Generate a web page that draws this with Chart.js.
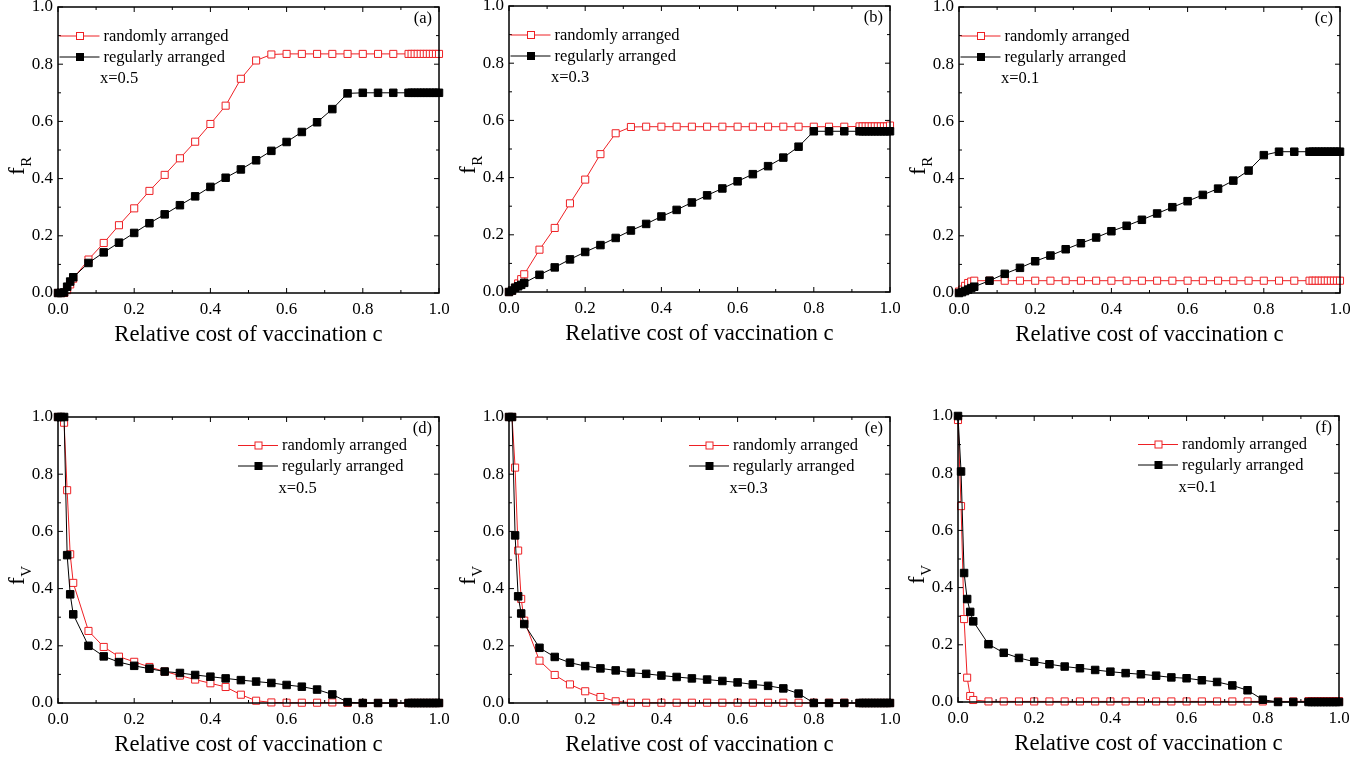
<!DOCTYPE html>
<html><head><meta charset="utf-8">
<script src="https://cdn.jsdelivr.net/npm/chart.js@4.4.1/dist/chart.umd.min.js"></script>
<style>
html,body{margin:0;padding:0;background:#fff;overflow:hidden;width:1371px;height:758px;position:relative;}
canvas{position:absolute;}
</style></head><body>
<canvas id="pa" width="451" height="356" style="left:-2px;top:-3px"></canvas>
<canvas id="pb" width="451" height="356" style="left:449px;top:-4px"></canvas>
<canvas id="pc" width="451" height="356" style="left:899px;top:-3px"></canvas>
<canvas id="pd" width="451" height="356" style="left:-2px;top:407px"></canvas>
<canvas id="pe" width="451" height="356" style="left:449px;top:407px"></canvas>
<canvas id="pf" width="451" height="356" style="left:898px;top:406px"></canvas>
<script>
// ---- data ----
const cost = [0, 0.008, 0.016, 0.024, 0.032, 0.04, 0.08, 0.12, 0.16, 0.2, 0.24, 0.28, 0.32, 0.36, 0.4, 0.44, 0.48, 0.52, 0.56, 0.6, 0.64, 0.68, 0.72, 0.76, 0.8, 0.84, 0.88, 0.92, 0.928, 0.936, 0.944, 0.952, 0.96, 0.968, 0.976, 0.984, 0.992, 1.0];
const tickValues = [0, 0.2, 0.4, 0.6, 0.8, 1.0];
const seriesNames = ['randomly arranged', 'regularly arranged'];

const fR_random_x05 = [0, 0, 0, 0.01, 0.03, 0.05, 0.117, 0.175, 0.237, 0.296, 0.357, 0.413, 0.471, 0.529, 0.591, 0.655, 0.749, 0.813, 0.834, 0.836, 0.836, 0.836, 0.836, 0.836, 0.836, 0.836, 0.836, 0.836, 0.836, 0.836, 0.836, 0.836, 0.836, 0.836, 0.836, 0.836, 0.836, 0.836];
const fR_regular_x05 = [0, 0, 0.002, 0.022, 0.04, 0.055, 0.105, 0.142, 0.176, 0.21, 0.244, 0.275, 0.307, 0.338, 0.371, 0.403, 0.432, 0.464, 0.497, 0.528, 0.563, 0.597, 0.643, 0.698, 0.7, 0.7, 0.7, 0.7, 0.7, 0.7, 0.7, 0.7, 0.7, 0.7, 0.7, 0.7, 0.7, 0.7];
const fR_random_x03 = [0, 0.005, 0.015, 0.03, 0.045, 0.062, 0.148, 0.224, 0.31, 0.393, 0.482, 0.555, 0.577, 0.578, 0.578, 0.578, 0.578, 0.578, 0.578, 0.578, 0.578, 0.578, 0.578, 0.578, 0.578, 0.578, 0.578, 0.579, 0.579, 0.579, 0.579, 0.579, 0.579, 0.579, 0.579, 0.579, 0.579, 0.582];
const fR_regular_x03 = [0, 0.005, 0.015, 0.02, 0.025, 0.032, 0.06, 0.086, 0.114, 0.14, 0.164, 0.189, 0.215, 0.238, 0.264, 0.287, 0.313, 0.338, 0.362, 0.387, 0.412, 0.44, 0.47, 0.508, 0.562, 0.562, 0.562, 0.562, 0.562, 0.562, 0.562, 0.562, 0.562, 0.562, 0.562, 0.562, 0.562, 0.562];
const fR_random_x01 = [0.005, 0.012, 0.025, 0.035, 0.04, 0.043, 0.043, 0.043, 0.043, 0.043, 0.043, 0.043, 0.043, 0.043, 0.043, 0.043, 0.043, 0.043, 0.043, 0.043, 0.043, 0.043, 0.043, 0.043, 0.043, 0.043, 0.043, 0.043, 0.043, 0.043, 0.043, 0.043, 0.043, 0.043, 0.043, 0.043, 0.043, 0.043];
const fR_regular_x01 = [0, 0.003, 0.007, 0.012, 0.017, 0.022, 0.043, 0.067, 0.088, 0.111, 0.131, 0.153, 0.174, 0.194, 0.216, 0.235, 0.256, 0.278, 0.3, 0.321, 0.343, 0.365, 0.393, 0.428, 0.482, 0.494, 0.494, 0.494, 0.494, 0.494, 0.494, 0.494, 0.494, 0.494, 0.494, 0.494, 0.494, 0.494];

const fV_random_x05 = [1, 1, 0.98, 0.744, 0.52, 0.42, 0.252, 0.196, 0.162, 0.144, 0.126, 0.11, 0.096, 0.082, 0.069, 0.056, 0.029, 0.008, 0.002, 0.001, 0.001, 0.001, 0.002, 0, 0, 0, 0, 0, 0, 0, 0, 0, 0, 0, 0, 0, 0, 0];
const fV_regular_x05 = [1, 1, 1, 0.517, 0.38, 0.31, 0.2, 0.163, 0.143, 0.13, 0.12, 0.11, 0.105, 0.098, 0.092, 0.086, 0.08, 0.075, 0.07, 0.063, 0.057, 0.047, 0.03, 0.003, 0, 0, 0, 0, 0, 0, 0, 0, 0, 0, 0, 0, 0, 0];
const fV_random_x03 = [1, 1, 0.823, 0.533, 0.364, 0.288, 0.148, 0.098, 0.065, 0.041, 0.021, 0.006, 0.001, 0.001, 0.001, 0.001, 0.001, 0.001, 0.001, 0.001, 0.001, 0.001, 0.001, 0.001, 0.001, 0.001, 0.001, 0, 0, 0, 0, 0, 0, 0, 0, 0, 0, 0];
const fV_regular_x03 = [1, 1, 0.586, 0.373, 0.313, 0.276, 0.193, 0.161, 0.141, 0.129, 0.121, 0.114, 0.106, 0.102, 0.096, 0.091, 0.086, 0.082, 0.077, 0.072, 0.065, 0.06, 0.051, 0.033, 0, 0, 0, 0, 0, 0, 0, 0, 0, 0, 0, 0, 0, 0];
const fV_random_x01 = [0.986, 0.685, 0.29, 0.085, 0.021, 0.007, 0.002, 0.002, 0.002, 0.002, 0.002, 0.002, 0.002, 0.002, 0.002, 0.002, 0.002, 0.002, 0.002, 0.002, 0.002, 0.002, 0.002, 0.002, 0.002, 0.002, 0.002, 0.003, 0.003, 0.003, 0.003, 0.003, 0.003, 0.003, 0.003, 0.003, 0.003, 0.003];
const fV_regular_x01 = [1, 0.806, 0.451, 0.36, 0.315, 0.282, 0.202, 0.172, 0.154, 0.141, 0.132, 0.124, 0.118, 0.112, 0.106, 0.101, 0.097, 0.092, 0.086, 0.083, 0.076, 0.07, 0.058, 0.041, 0.008, 0, 0, 0, 0, 0, 0, 0, 0, 0, 0, 0, 0, 0];

// ---- styling ----
const RED = 'rgb(238,32,36)';
const FONT = "'Liberation Serif', 'Times New Roman', serif";

const decor = {
  id: 'decor',
  afterDraw(chart, args, o) {
    const ctx = chart.ctx, a = chart.chartArea, xs = chart.scales.x, ys = chart.scales.y;
    ctx.save();
    ctx.strokeStyle = '#000';
    ctx.lineWidth = 1.5;
    ctx.strokeRect(a.left, a.top, a.right - a.left, a.bottom - a.top);
    ctx.lineWidth = 1;
    const seg = (x1, y1, x2, y2) => { ctx.beginPath(); ctx.moveTo(x1, y1); ctx.lineTo(x2, y2); ctx.stroke(); };
    for (let i = 0; i <= 10; i++) {
      const v = i / 10, L = (i % 2 === 0) ? 5 : 3;
      const px = xs.getPixelForValue(v), py = ys.getPixelForValue(v);
      seg(px, a.bottom, px, a.bottom - L);
      seg(px, a.top, px, a.top + L);
      seg(a.left, py, a.left + L, py);
      seg(a.right, py, a.right - L, py);
    }
    ctx.fillStyle = '#000';
    ctx.font = '22.7px ' + FONT;
    ctx.textAlign = 'center';
    ctx.textBaseline = 'alphabetic';
    ctx.fillText('Relative cost of vaccination c', (a.left + a.right) / 2, a.bottom + 48);
    ctx.save();
    ctx.translate(a.left - 34.5, (a.top + a.bottom) / 2 + 25);
    ctx.rotate(-Math.PI / 2);
    ctx.textAlign = 'left';
    ctx.font = '23px ' + FONT;
    ctx.fillText('f', 0, 0);
    const fw = ctx.measureText('f').width;
    ctx.font = '15px ' + FONT;
    ctx.fillText(o.sub, fw + 0.5, 7.5);
    ctx.restore();
    ctx.font = '16.5px ' + FONT;
    ctx.textAlign = 'right';
    ctx.fillText(o.tag, a.right - 7, a.top + 16);
    let textX, rows;
    if (o.side === 'left') { textX = a.left + 45.5; rows = [a.top + 29, a.top + 50]; }
    else { textX = a.right - 157; rows = [a.top + 28.5, a.top + 49]; }
    const ds = chart.data.datasets;
    [0, 1].forEach((di, k) => {
      const d = ds[di], y = rows[k];
      ctx.strokeStyle = d.borderColor;
      ctx.lineWidth = 1;
      seg(textX - 44, y, textX - 4, y);
      ctx.fillStyle = d.pointBackgroundColor;
      const s = 7;
      ctx.fillRect(textX - 23.5 - s / 2, y - s / 2, s, s);
      ctx.strokeStyle = d.pointBorderColor;
      ctx.strokeRect(textX - 23.5 - s / 2, y - s / 2, s, s);
      ctx.fillStyle = '#000';
      ctx.textAlign = 'left';
      ctx.font = '16.5px ' + FONT;
      ctx.fillText(d.label, textX, y + 4.5);
    });
    ctx.fillText(o.xval, textX - 3.5, a.top + 76);
    ctx.restore();
  }
};

function pts(ys) { return cost.map((c, i) => ({ x: c, y: ys[i] })); }

function makeChart(id, randomVals, regularVals, opts) {
  const axis = (isX) => ({
    type: 'linear', min: 0, max: 1,
    grid: { display: false, drawTicks: false },
    border: { display: false },
    afterBuildTicks: (s) => { s.ticks = tickValues.map(v => ({ value: v })); },
    afterFit: (s) => {
      if (isX) s.height = 60; else s.width = 60;
      s.paddingLeft = 0; s.paddingRight = 0; s.paddingTop = 0; s.paddingBottom = 0;
    },
    ticks: {
      color: '#000', padding: isX ? 6 : 5, maxRotation: 0, autoSkip: false,
      font: { family: FONT, size: 17 },
      callback: (v) => Number(v).toFixed(1)
    }
  });
  return new Chart(document.getElementById(id), {
    type: 'line',
    data: {
      datasets: [
        { label: seriesNames[0], data: pts(randomVals), order: 1,
          borderColor: RED, borderWidth: 1, pointStyle: 'rect', pointRadius: 5,
          pointBackgroundColor: '#fff', pointBorderColor: RED, pointBorderWidth: 1, clip: false },
        { label: seriesNames[1], data: pts(regularVals), order: 0,
          borderColor: '#000', borderWidth: 1, pointStyle: 'rect', pointRadius: 5.3,
          pointBackgroundColor: '#000', pointBorderColor: '#000', pointBorderWidth: 1, clip: false }
      ]
    },
    options: {
      responsive: false, animation: false, devicePixelRatio: 1,
      layout: { padding: { left: 0, top: 10, right: 10, bottom: 0 } },
      scales: { x: axis(true), y: axis(false) },
      plugins: { legend: { display: false }, tooltip: { enabled: false }, decor: opts }
    },
    plugins: [decor]
  });
}

makeChart('pa', fR_random_x05, fR_regular_x05, { tag: '(a)', xval: 'x=0.5', sub: 'R', side: 'left' });
makeChart('pb', fR_random_x03, fR_regular_x03, { tag: '(b)', xval: 'x=0.3', sub: 'R', side: 'left' });
makeChart('pc', fR_random_x01, fR_regular_x01, { tag: '(c)', xval: 'x=0.1', sub: 'R', side: 'left' });
makeChart('pd', fV_random_x05, fV_regular_x05, { tag: '(d)', xval: 'x=0.5', sub: 'V', side: 'right' });
makeChart('pe', fV_random_x03, fV_regular_x03, { tag: '(e)', xval: 'x=0.3', sub: 'V', side: 'right' });
makeChart('pf', fV_random_x01, fV_regular_x01, { tag: '(f)', xval: 'x=0.1', sub: 'V', side: 'right' });
</script>
</body></html>
